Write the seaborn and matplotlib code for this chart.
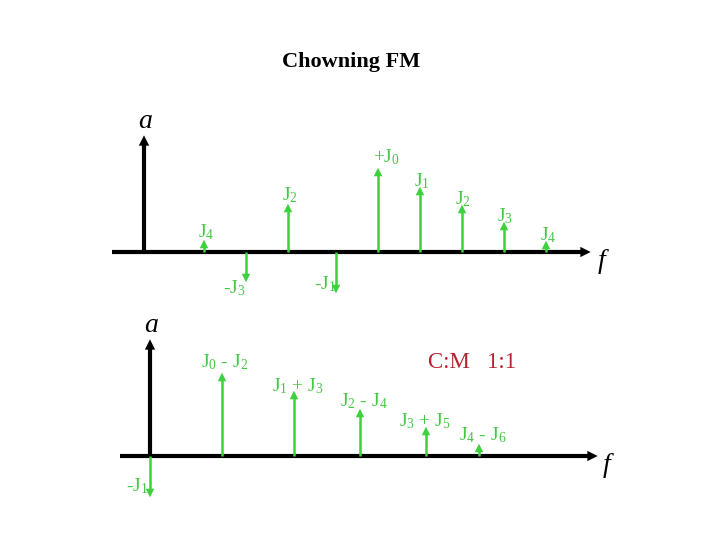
import numpy as np
import seaborn as sns
import matplotlib.pyplot as plt

# upper spectrum: Bessel sidebands around the carrier
top_freq = [204, 246, 288, 336, 378, 420, 462, 504, 546]
top_amp = [12, -30, 48, -41, 84, 65, 47, 30, 11]
top_labels = [r'J$_4$', r'-J$_3$', r'J$_2$', r'-J$_1$', r'+J$_0$',
              r'J$_1$', r'J$_2$', r'J$_3$', r'J$_4$']

# lower spectrum: C:M 1:1, reflected sidebands summed
bot_freq = [150, 222, 294, 360, 426, 479]
bot_amp = [-41, 83, 65, 47, 29, 12]
bot_labels = [r'-J$_1$', r'J$_0$ - J$_2$', r'J$_1$ + J$_3$',
              r'J$_2$ - J$_4$', r'J$_3$ + J$_5$', r'J$_4$ - J$_6$']

# layout (pixel space)
top_base, bot_base = 252, 456
top_lab_xy = [(206, 232), (234, 288), (290, 195), (325, 284), (386, 157),
              (422, 181), (463, 199), (505, 216), (548, 235)]
bot_lab_xy = [(137, 486), (225, 362), (298, 386), (364, 401), (425, 421), (483, 435)]

green = '#3dd13d'
tgreen = '#45c845'
head_h = 8

sns.set_theme(style='white')
plt.rcParams['font.family'] = ['Liberation Serif', 'DejaVu Serif']
plt.rcParams['mathtext.fontset'] = 'custom'
plt.rcParams['mathtext.rm'] = 'Liberation Serif'
plt.rcParams['mathtext.default'] = 'regular'

fig = plt.figure(figsize=(7.2, 5.4), dpi=100)
ax = fig.add_axes([0, 0, 1, 1])
ax.set_xlim(0, 720)
ax.set_ylim(540, 0)
ax.axis('off')


def axes_arrows(x0, x1, xv, base, ytop):
    # black f and a axes with small triangular heads
    ax.plot([x0, x1 - 8], [base, base], color='black', lw=3, solid_capstyle='butt')
    ax.plot([xv, xv], [base, ytop + 8], color='black', lw=3, solid_capstyle='butt')
    sns.scatterplot(x=[x1 - 4.5], y=[base], marker='>', s=55, color='black',
                    edgecolor='none', ax=ax, zorder=4)
    sns.scatterplot(x=[xv], y=[ytop + 4.5], marker='^', s=55, color='black',
                    edgecolor='none', ax=ax, zorder=4)


def spectrum(freq, amp, base, labels, lab_xy):
    freq = np.array(freq)
    amp = np.array(amp)
    tip = base - amp
    up = amp > 0
    stem_end = np.where(up, tip + head_h - 1, tip - head_h + 1)
    ax.vlines(freq, base, stem_end, color=green, lw=1.8, zorder=3)
    sns.scatterplot(x=freq[up], y=tip[up] + head_h / 2, marker='^', s=38,
                    color=green, edgecolor='none', ax=ax, zorder=4)
    sns.scatterplot(x=freq[~up], y=tip[~up] - head_h / 2, marker='v', s=38,
                    color=green, edgecolor='none', ax=ax, zorder=4)
    for lab, (lx, ly) in zip(labels, lab_xy):
        ax.text(lx, ly, lab, color=tgreen, fontsize=14, ha='center', va='center', zorder=5)


axes_arrows(112, 590, 144, top_base, 136)
axes_arrows(120, 597, 150, bot_base, 340)
spectrum(top_freq, top_amp, top_base, top_labels, top_lab_xy)
spectrum(bot_freq, bot_amp, bot_base, bot_labels, bot_lab_xy)

ax.text(351, 62, 'Chowning FM', fontsize=16, fontweight='bold', color='black',
        ha='center', va='center')
for tx, ty, t in [(145, 121, 'a'), (602, 261, 'f'), (151, 326, 'a'), (607, 466, 'f')]:
    ax.text(tx, ty, t, fontsize=20, style='italic', color='black', ha='center', va='center')
ax.text(472, 362, 'C:M   1:1', fontsize=16.5, color='#b52430', ha='center', va='center')

plt.savefig('out.png')
